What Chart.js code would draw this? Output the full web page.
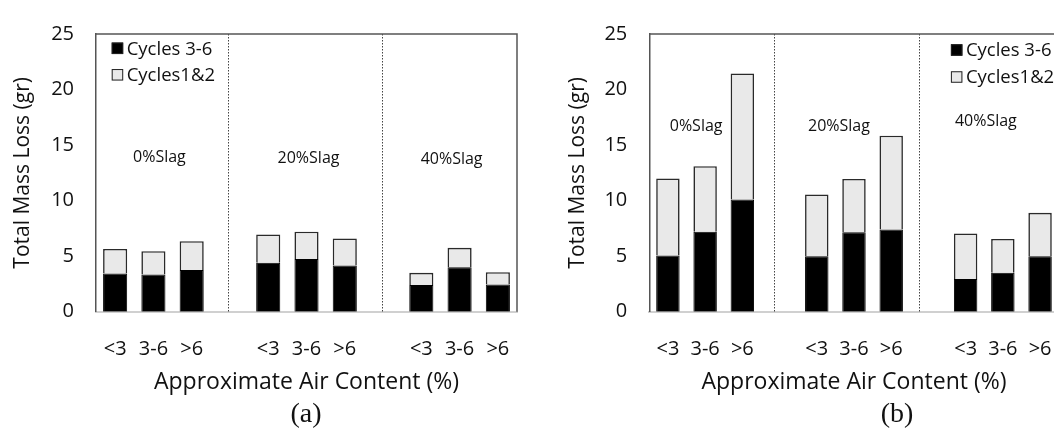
<!DOCTYPE html>
<html><head><meta charset="utf-8">
<script src="https://cdn.jsdelivr.net/npm/chart.js@4/dist/chart.umd.min.js"></script>
<style>
html,body{margin:0;padding:0;width:1054px;height:431px;overflow:hidden;background:#fff;}
#wa{position:absolute;left:0;top:0;width:530px;height:431px;}
#wb{position:absolute;left:530px;top:0;width:540px;height:431px;}
.cap{position:absolute;top:397px;font-family:"Liberation Serif",serif;font-size:28px;color:#111;transform:translateX(-50%);line-height:32px;}
</style></head><body>
<div id="wa"><canvas id="ca"></canvas></div>
<div id="wb"><canvas id="cb"></canvas></div>
<div class="cap" style="left:306px">(a)</div>
<div class="cap" style="left:897px">(b)</div>
<script>
// ---- data ----
const airContent = ['<3', '3-6', '>6'];
const slagGroups = ['0%Slag', '20%Slag', '40%Slag'];
const seriesNames = ['Cycles 3-6', 'Cycles1&2'];
const yTitle = 'Total Mass Loss (gr)';
const xTitle = 'Approximate Air Content (%)';
// panel (a)
const cycles36_a = [3.45, 3.35, 3.75, 4.4, 4.75, 4.15, 2.4, 4.0, 2.45];
const cycles12_a = [2.2, 2.1, 2.6, 2.55, 2.45, 2.45, 1.1, 1.75, 1.1];
// panel (b)
const cycles36_b = [5.05, 7.2, 10.1, 5.0, 7.15, 7.4, 2.95, 3.5, 5.0];
const cycles12_b = [6.95, 5.9, 11.35, 5.55, 4.8, 8.45, 4.1, 3.05, 3.9];

// ---- build category table (blank slot between slag groups) ----
function buildLabels() {
  const out = [];
  slagGroups.forEach((g, gi) => { airContent.forEach(a => out.push(a)); if (gi < slagGroups.length - 1) out.push(''); });
  return out;
}
function expand(vals) {
  const out = []; let k = 0;
  slagGroups.forEach((g, gi) => { airContent.forEach(() => out.push(vals[k++])); if (gi < slagGroups.length - 1) out.push(null); });
  return out;
}
const labels = buildLabels();
const FONT = '"Open Sans", Lato, sans-serif';
const TXT = '#111111';

const decor = {
  id: 'decor',
  afterDatasetsDraw(chart, args, o) {
    const {ctx, chartArea: ca, scales: {x, y}} = chart;
    ctx.save();
    // dotted dividers at blank slots
    ctx.strokeStyle = '#444'; ctx.lineWidth = 1; ctx.setLineDash([1.5, 1.5]);
    labels.forEach((l, i) => {
      if (l !== '') return;
      const dx = (o.dividerShift && o.dividerShift[i]) || 0;
      const px = Math.round(x.getPixelForValue(i) + dx) + 0.5;
      ctx.beginPath(); ctx.moveTo(px, ca.top); ctx.lineTo(px, ca.bottom); ctx.stroke();
    });
    ctx.setLineDash([]);
    // frame top & right
    ctx.strokeStyle = '#555'; ctx.lineWidth = 1.5;
    ctx.beginPath(); ctx.moveTo(ca.left, ca.top); ctx.lineTo(ca.right, ca.top); ctx.lineTo(ca.right, ca.bottom); ctx.stroke();
    // group labels
    ctx.fillStyle = TXT; ctx.font = '16px ' + FONT; ctx.textAlign = 'center'; ctx.textBaseline = 'middle';
    o.groups.forEach((g, gi) => {
      ctx.fillText(slagGroups[gi], x.getPixelForValue(g.idx) + g.dx, y.getPixelForValue(g.v));
    });
    // legend
    const ds = chart.data.datasets;
    ctx.font = '18.5px ' + FONT; ctx.textAlign = 'left';
    ds.forEach((d, i) => {
      const bx = ca.left + o.legend.x, cy = ca.top + o.legend.y + i * o.legend.gap;
      const s = 11.5;
      ctx.fillStyle = d.backgroundColor; ctx.fillRect(bx, cy - s / 2, s, s);
      ctx.strokeStyle = '#222'; ctx.lineWidth = 1; ctx.strokeRect(bx + 0.5, cy - s / 2 + 0.5, s - 1, s - 1);
      ctx.fillStyle = TXT; ctx.fillText(d.label, bx + 15, cy + 1);
    });
    ctx.restore();
  }
};

function makeChart(id, c36, c12, cfg) {
  return new Chart(document.getElementById(id), {
    type: 'bar',
    data: {
      labels: labels,
      datasets: [
        {label: seriesNames[0], data: expand(c36), backgroundColor: '#000000', borderColor: '#000000', borderWidth: 1},
        {label: seriesNames[1], data: expand(c12), backgroundColor: '#e9e9e9', borderColor: '#2a2a2a', borderWidth: 1.6}
      ]
    },
    options: {
      responsive: true, maintainAspectRatio: false, animation: false,
      layout: {padding: {left: 0, top: cfg.top, right: cfg.right, bottom: 0}},
      datasets: {bar: {categoryPercentage: 1, barPercentage: 0.63}},
      plugins: {legend: {display: false}, tooltip: {enabled: false}, decor: cfg.decor},
      scales: {
        x: {
          stacked: true,
          grid: {display: false},
          border: {display: true, color: '#d0d0d0', width: 2},
          ticks: {color: TXT, font: {family: FONT, size: 20}, padding: 18, maxRotation: 0, autoSkip: false},
          title: {display: true, text: xTitle, color: TXT, font: {family: FONT, size: 23}, padding: {top: 0, bottom: 35}},
          afterFit: s => { s.height = 431 - cfg.bottom; }
        },
        y: {
          stacked: true, min: 0, max: 25,
          grid: {display: false, drawTicks: false},
          border: {display: true, color: '#555', width: 1.5},
          ticks: {stepSize: 5, color: TXT, font: {family: FONT, size: 20}, padding: 22},
          title: {display: true, text: yTitle, color: TXT, font: {family: FONT, size: 21}, padding: {top: cfg.ytp, bottom: 0}},
          afterFit: s => { s.width = cfg.yw; }
        }
      }
    },
    plugins: [decor]
  });
}

makeChart('ca', cycles36_a, cycles12_a, {
  top: 20.7, right: 13, bottom: 311.7, yw: 96, ytp: 10.7,
  decor: {
    dividerShift: {3: -1.5, 7: -1.5},
    groups: [{idx: 1, dx: 6, v: 13.9}, {idx: 5, dx: 2, v: 13.8}, {idx: 9, dx: -8, v: 13.7}],
    legend: {x: 15.7, y: 14.3, gap: 26.5}
  }
});
makeChart('cb', cycles36_b, cycles12_b, {
  top: 28.3, right: 11, bottom: 311.7, yw: 119.3, ytp: 35.7,
  decor: {
    dividerShift: {3: -6, 7: -9},
    groups: [{idx: 1, dx: -9, v: 16.7}, {idx: 5, dx: -15, v: 16.7}, {idx: 9, dx: -17, v: 17.1}],
    legend: {x: 301.6, y: 16, gap: 27}
  }
});
</script>
</body></html>
